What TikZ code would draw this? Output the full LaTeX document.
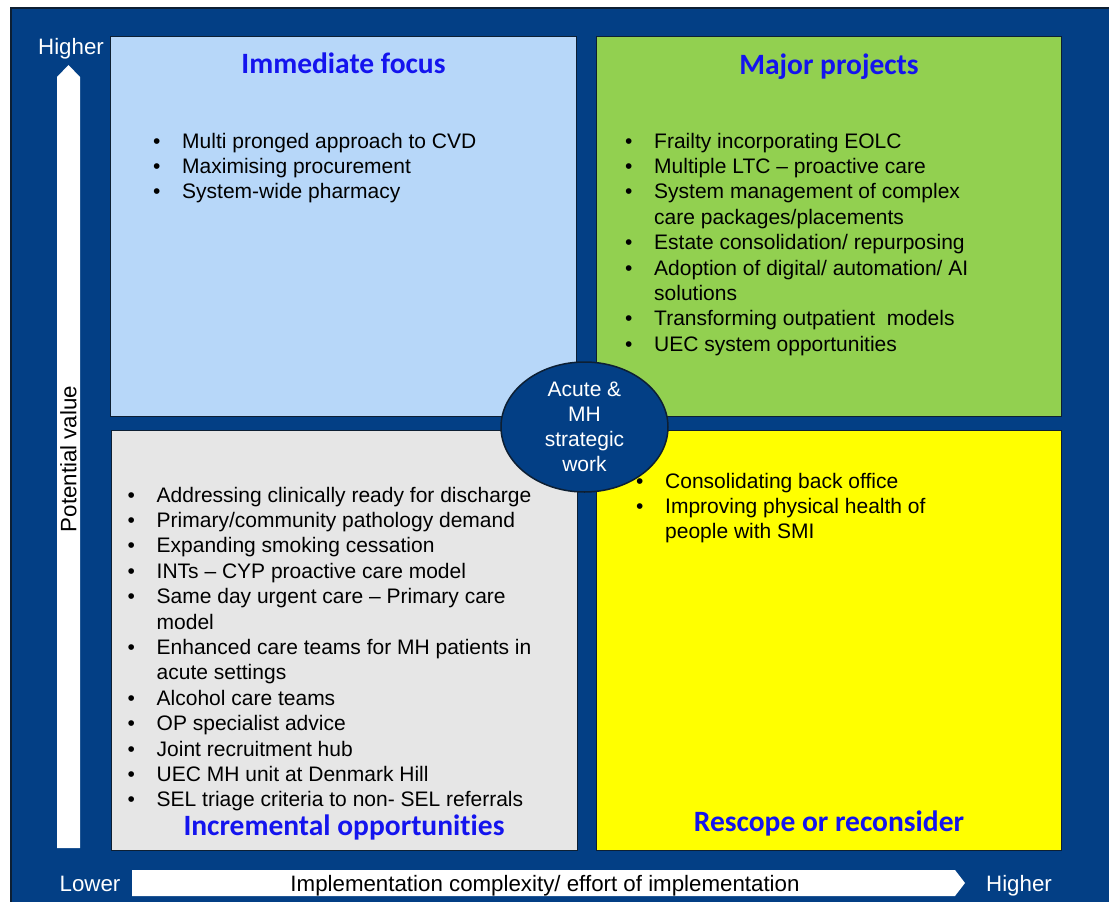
\documentclass[tikz,border=0pt]{standalone}
\usepackage{fontspec}
\setmainfont{Liberation Sans}
\newfontfamily\titlefont[Ligatures=NoCommon]{Carlito}
\usetikzlibrary{shapes.geometric}

\definecolor{bgblue}{HTML}{033F85}
\definecolor{edgecol}{HTML}{0D1F33}
\definecolor{paleblue}{HTML}{B7D7F9}
\definecolor{leafgreen}{HTML}{92D050}
\definecolor{palegray}{HTML}{E6E6E6}
\definecolor{brightyellow}{HTML}{FFFF00}
\definecolor{titleblue}{HTML}{1414EE}

% bullet list: bullet column then text column, first row baseline on top
\newcommand\blist[1]{\begin{tabular}[t]{@{}p{29pt}@{}l@{}}#1\end{tabular}}

\tikzset{
  quad/.style={rectangle, draw=edgecol, line width=1.6pt, inner sep=0pt, outer sep=0pt},
  bodytext/.style={inner sep=0pt, anchor=base west, align=left,
    font=\fontsize{21}{25.4}\selectfont},
  qtitle/.style={inner sep=0pt, anchor=base, text=titleblue,
    font=\titlefont\bfseries\fontsize{29.5}{32}\selectfont},
  axislabel/.style={inner sep=0pt, font=\fontsize{22.3}{26}\selectfont},
  axisarrow/.style={fill=white, draw=none},
}

\begin{document}
\begin{tikzpicture}[x=1pt,y=-1pt]
\useasboundingbox (0,0) rectangle (1109,902);
\fill[white] (0,0) rectangle (1109,902);
\draw[fill=bgblue, draw=edgecol, line width=1.5pt] (11,8) rectangle (1115,908);

% four quadrants
\node[quad, fill=paleblue, minimum width=466pt, minimum height=380pt] (tl) at (343.5,226.5) {};
\node[quad, fill=leafgreen, minimum width=465pt, minimum height=380pt] (tr) at (829,226.5) {};
\node[quad, fill=palegray, minimum width=466pt, minimum height=420pt] (bl) at (344.5,640.5) {};
\node[quad, fill=brightyellow, minimum width=465pt, minimum height=420pt] (br) at (829,640.5) {};

% quadrant titles
\node[qtitle] (tlt) at (343.5,73) {Immediate focus};
\node[qtitle] (trt) at (829,74) {Major projects};
\node[qtitle] (blt) at (344,835) {Incremental opportunities};
\node[qtitle] (brt) at (829,831) {Rescope or reconsider};

% quadrant contents
\node[bodytext] (tlb) at (153,148) {\blist{
\textbullet & Multi pronged approach to CVD\\
\textbullet & Maximising procurement\\
\textbullet & System-wide pharmacy\\}};

\node[bodytext] (trb) at (625,148) {\blist{
\textbullet & Frailty incorporating EOLC\\
\textbullet & Multiple LTC -- proactive care\\
\textbullet & System management of complex\\
 & care packages/placements\\
\textbullet & Estate consolidation/ repurposing\\
\textbullet & Adoption of digital/ automation/ AI\\
 & solutions\\
\textbullet & Transforming outpatient\ \ models\\
\textbullet & UEC system opportunities\\}};

\node[bodytext] (blb) at (127.5,502) {\blist{
\textbullet & Addressing clinically ready for discharge\\
\textbullet & Primary/community pathology demand\\
\textbullet & Expanding smoking cessation\\
\textbullet & INTs -- CYP proactive care model\\
\textbullet & Same day urgent care -- Primary care\\
 & model\\
\textbullet & Enhanced care teams for MH patients in\\
 & acute settings\\
\textbullet & Alcohol care teams\\
\textbullet & OP specialist advice\\
\textbullet & Joint recruitment hub\\
\textbullet & UEC MH unit at Denmark Hill\\
\textbullet & SEL triage criteria to non- SEL referrals\\}};

\node[bodytext] (brb) at (636,488) {\blist{
\textbullet & Consolidating back office\\
\textbullet & Improving physical health of\\
 & people with SMI\\}};

% central ellipse
\node[ellipse, fill=bgblue, draw=edgecol, line width=1.5pt,
  minimum width=167pt, minimum height=130pt, inner sep=0pt,
  text=white, align=center, font=\fontsize{21}{25}\selectfont]
  (centre) at (584.5,427) {Acute \&\\MH\\strategic\\work};

% vertical axis arrow
\fill[axisarrow] (57,848) -- (57,77) -- (68.5,65) -- (80,77) -- (80,848) -- cycle;
\node[axislabel, rotate=90] (vlab) at (68.5,459) {Potential value};
\node[axislabel, anchor=base, text=white] (vhigh) at (71,54) {Higher};

% horizontal axis arrow
\fill[axisarrow] (132,870) -- (955,870) -- (965,883) -- (955,896) -- (132,896) -- cycle;
\node[axislabel, anchor=base] (hlab) at (545,891) {Implementation complexity/ effort of implementation};
\node[axislabel, anchor=base, text=white] (hlow) at (90,891) {Lower};
\node[axislabel, anchor=base, text=white] (hhigh) at (1019,891) {Higher};
\end{tikzpicture}
\end{document}
